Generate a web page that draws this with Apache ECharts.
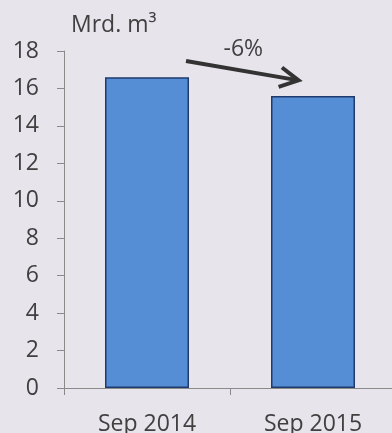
<!DOCTYPE html>
<html>
<head>
<meta charset="utf-8">
<script src="https://cdn.jsdelivr.net/npm/echarts@6/dist/echarts.min.js"></script>
<style>
  html, body { margin: 0; padding: 0; background: #E7E4EB; }
  #chart { width: 392px; height: 433px; }
</style>
</head>
<body>
<div id="chart"></div>
<script>
// Gas volumes, billion cubic metres
const categories = ['Sep 2014', 'Sep 2015'];
const volumes = [16.6, 15.6];
const yTicks = { min: 0, max: 18, interval: 2 };
const unitLabel = 'Mrd. m³';

// Change annotation: arrow from the first bar to the second
const changeLabel = '-6%';
const arrowFrom = [0, 17.47];
const arrowTo = [1, 16.43];

const FONT = '"Open Sans", sans-serif';
const TEXT = '#404040';
const AXIS = '#8a8a8a';

const chart = echarts.init(document.getElementById('chart'), null, { renderer: 'canvas' });

chart.setOption({
  backgroundColor: '#E7E4EB',
  animation: false,
  title: {
    text: unitLabel,
    left: 71,
    top: 14,
    padding: 0,
    textStyle: { fontFamily: FONT, fontSize: 23, fontWeight: 'normal', color: TEXT }
  },
  grid: {
    left: 64, width: 332, top: 51, bottom: 45,
    containLabel: false, outerBoundsMode: 'none'
  },
  xAxis: {
    type: 'category',
    data: categories,
    boundaryGap: true,
    axisLine: { lineStyle: { color: AXIS, width: 1 } },
    axisTick: { show: true, length: 7, lineStyle: { color: AXIS } },
    axisLabel: { fontFamily: FONT, fontSize: 23, color: TEXT, margin: 25 }
  },
  yAxis: {
    type: 'value',
    min: yTicks.min,
    max: yTicks.max,
    interval: yTicks.interval,
    splitLine: { show: false },
    axisLine: { show: true, lineStyle: { color: AXIS, width: 1 } },
    axisTick: { show: true, length: 7, lineStyle: { color: AXIS } },
    axisLabel: { fontFamily: FONT, fontSize: 23, color: TEXT, margin: 25 }
  },
  series: [
    {
      type: 'bar',
      data: volumes,
      barWidth: 84,
      itemStyle: { color: '#558ED5', borderColor: '#1F3B6E', borderWidth: 1.5 }
    },
    {
      type: 'custom',
      data: [[arrowFrom[0], arrowFrom[1], arrowTo[0], arrowTo[1]]],
      z: 10,
      renderItem: function (params, api) {
        const band = api.size([1, 0])[0];
        const a = api.coord([api.value(0), api.value(1)]);
        const b = api.coord([api.value(2), api.value(3)]);
        const x1 = a[0] + band * 0.235, y1 = a[1];
        const x2 = b[0] - band * 0.087, y2 = b[1];
        const ang = Math.atan2(y2 - y1, x2 - x1);
        const head = 21, spread = 28 * Math.PI / 180;
        const p1 = [x2 - head * Math.cos(ang - spread), y2 - head * Math.sin(ang - spread)];
        const p2 = [x2 - head * Math.cos(ang + spread), y2 - head * Math.sin(ang + spread)];
        const stroke = { stroke: '#333333', lineWidth: 4, fill: null };
        return {
          type: 'group',
          children: [
            { type: 'line', shape: { x1: x1, y1: y1, x2: x2 - 1.5 * Math.cos(ang), y2: y2 - 1.5 * Math.sin(ang) }, style: stroke },
            { type: 'polyline', shape: { points: [p1, [x2, y2], p2] }, style: Object.assign({ lineJoin: 'miter' }, stroke) },
            {
              type: 'text',
              x: (x1 + x2) / 2 + 1,
              y: (y1 + y2) / 2 - 21,
              style: {
                text: changeLabel, fontFamily: FONT, fontSize: 23, fill: TEXT,
                align: 'center', verticalAlign: 'middle'
              }
            }
          ]
        };
      }
    }
  ]
});
</script>
</body>
</html>
